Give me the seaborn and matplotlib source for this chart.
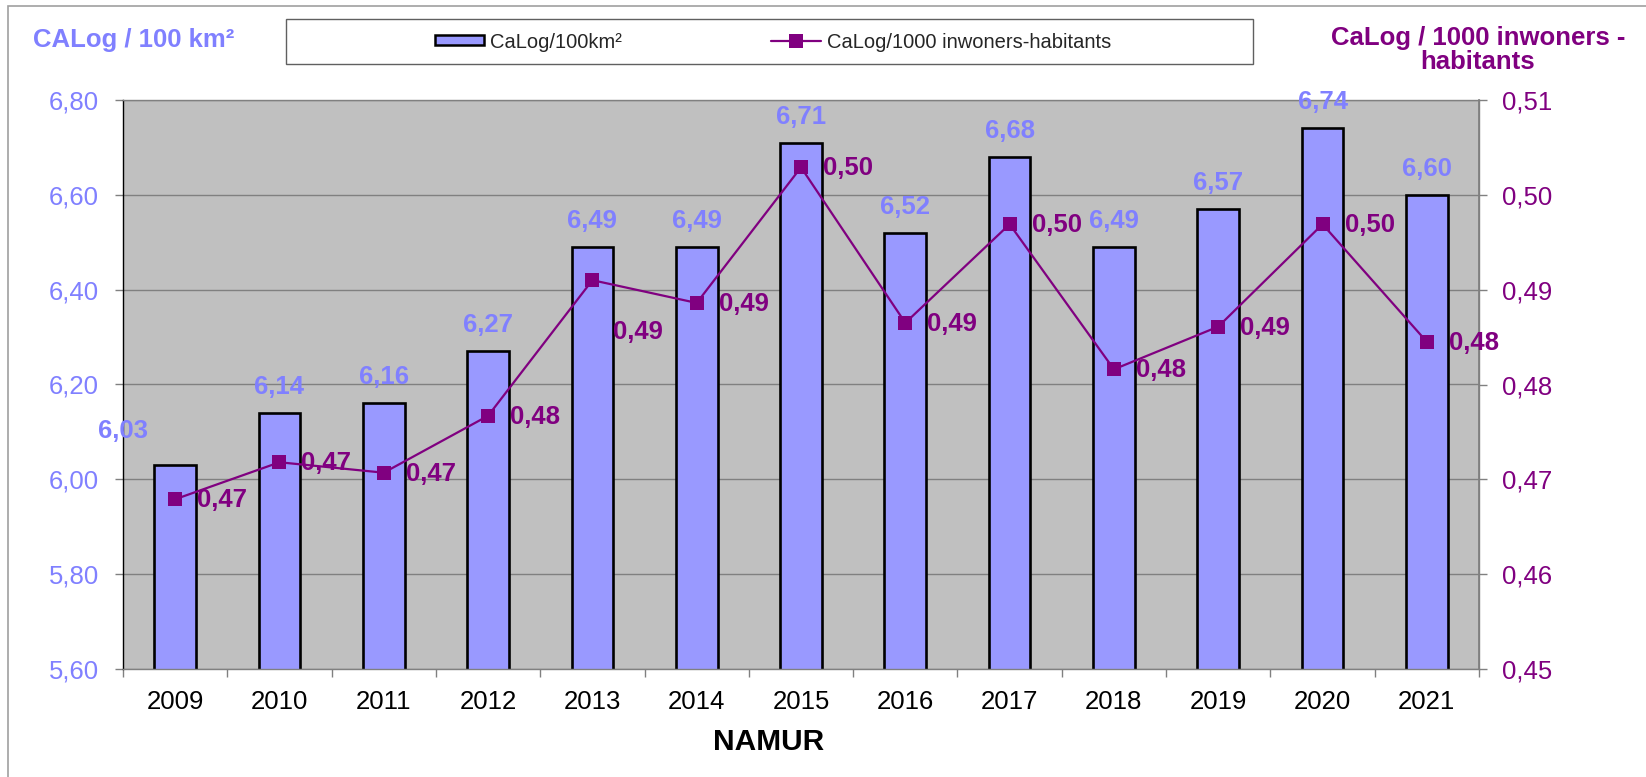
import numpy as np
import pandas as pd
import matplotlib
matplotlib.use("Agg")
import matplotlib.pyplot as plt
import seaborn as sns
from matplotlib.patches import Rectangle, Patch
from matplotlib.lines import Line2D

# ---------------- data ----------------
years = ["2009", "2010", "2011", "2012", "2013", "2014", "2015",
         "2016", "2017", "2018", "2019", "2020", "2021"]
calog_per_100km2 = [6.03, 6.14, 6.16, 6.27, 6.49, 6.49, 6.71,
                    6.52, 6.68, 6.49, 6.57, 6.74, 6.60]
calog_per_1000_inh = [0.4679, 0.4718, 0.4707, 0.4767, 0.4910, 0.4886, 0.5029,
                      0.4865, 0.4969, 0.4816, 0.4861, 0.4969, 0.4845]
left_ticks = [5.60, 5.80, 6.00, 6.20, 6.40, 6.60, 6.80]
right_ticks = [0.45, 0.46, 0.47, 0.48, 0.49, 0.50, 0.51]

series_bar_label = "CaLog/100km²"
series_line_label = "CaLog/1000 inwoners-habitants"
left_title = "CALog / 100 km²"
right_title = "CaLog / 1000 inwoners -\nhabitants"
x_title = "NAMUR"

# ---------------- style ----------------
BAR_FILL = "#9999FF"
BAR_TEXT = "#8080FF"
LINE_COL = "#800080"
PLOT_BG = "#C0C0C0"
GRID_COL = "#808080"

sns.set_theme(style="white")
plt.rcParams["font.family"] = ["Liberation Sans", "DejaVu Sans"]

W, H = 1646, 777
fig = plt.figure(figsize=(W / 100, H / 100), dpi=100)
fig.patch.set_facecolor("white")

# plot area (pixel geometry of the reference)
L, R, T, B = 123, 1479, 100, 669
ax = fig.add_axes([L / W, 1 - B / H, (R - L) / W, (B - T) / H])

df = pd.DataFrame({"year": years,
                   "area": calog_per_100km2,
                   "inh": calog_per_1000_inh})
n = len(years)

sns.barplot(data=df, x="year", y="area", ax=ax, color=BAR_FILL,
            saturation=1, width=0.4, edgecolor="black", linewidth=1.9,
            zorder=2)
ax.set_facecolor(PLOT_BG)
ax.set_ylim(left_ticks[0], left_ticks[-1])
ax.set_xlim(-0.5, n - 0.5)
ax.set_axisbelow(True)
ax.yaxis.grid(True, color=GRID_COL, linewidth=1.0)
ax.xaxis.grid(False)
ax.set_xlabel("")
ax.set_ylabel("")

ax.set_yticks(left_ticks)
ax.set_yticklabels([f"{v:.2f}".replace(".", ",") for v in left_ticks])
ax.tick_params(axis="y", which="major", left=True, length=5.8, width=1,
               color=GRID_COL, labelcolor=BAR_TEXT, labelsize=18.5, pad=11.5)

ax.set_xticks(range(n))
ax.set_xticklabels(years)
ax.set_xticks(np.arange(n + 1) - 0.5, minor=True)
ax.tick_params(axis="x", which="major", bottom=True, length=0,
               labelsize=18.5, labelcolor="black", pad=15)
ax.tick_params(axis="x", which="minor", bottom=True, length=5.8, width=1,
               color=GRID_COL)

for side, sp in ax.spines.items():
    sp.set_visible(True)
    sp.set_color(GRID_COL)
    sp.set_linewidth(1.0)
ax.spines["left"].set_color("black")

# secondary axis with the line
ax2 = ax.twinx()
sns.lineplot(x=np.arange(n), y=df["inh"].values, ax=ax2, color=LINE_COL,
             marker="s", markersize=10, markeredgewidth=0, linewidth=1.6)
ax2.set_ylim(right_ticks[0], right_ticks[-1])
ax2.set_xlim(-0.5, n - 0.5)
ax2.patch.set_visible(False)
ax2.set_yticks(right_ticks)
ax2.set_yticklabels([f"{v:.2f}".replace(".", ",") for v in right_ticks])
ax2.tick_params(axis="y", which="major", right=True, left=False, length=5.8,
                width=1, color=GRID_COL, labelcolor=LINE_COL, labelsize=18.5,
                pad=10.8)
ax2.set_ylabel("")
for side, sp in ax2.spines.items():
    sp.set_visible(False)
ax2.spines["right"].set_visible(True)
ax2.spines["right"].set_color(GRID_COL)

# bar value labels
bar_label_offsets = {0: (-52, 34)}
for i, v in enumerate(calog_per_100km2):
    dx, dy = bar_label_offsets.get(i, (0, 26))
    ax2.annotate(f"{v:.2f}".replace(".", ","),
                 xy=(i, v), xycoords=ax.transData,
                 xytext=(dx, dy), textcoords="offset pixels",
                 ha="center", va="center", fontsize=18.5,
                 fontweight="bold", color=BAR_TEXT, zorder=5)

# line value labels
line_label_offsets = {4: (21, -52)}
for i, v in enumerate(calog_per_1000_inh):
    dx, dy = line_label_offsets.get(i, (22, -1))
    ax2.annotate(f"{v:.2f}".replace(".", ","),
                 xy=(i, v), xycoords="data",
                 xytext=(dx, dy), textcoords="offset pixels",
                 ha="left", va="center", fontsize=18.5,
                 fontweight="bold", color=LINE_COL, zorder=5,
                 annotation_clip=False)

# titles
fig.text(33 / W, 1 - 40 / H, left_title, ha="left", va="center",
         fontsize=18.5, fontweight="bold", color=BAR_TEXT)
fig.text(1478 / W, 1 - 50 / H, right_title, ha="center", va="center",
         fontsize=18.5, fontweight="bold", color=LINE_COL, linespacing=1.05)
fig.text(769 / W, 1 - 742 / H, x_title, ha="center", va="center",
         fontsize=21.5, fontweight="bold", color="black")

# legend
handles = [Patch(facecolor=BAR_FILL, edgecolor="black", linewidth=1.8),
           Line2D([], [], color=LINE_COL, marker="s", markersize=10,
                  markeredgewidth=0, linewidth=1.6)]
fig.legend(handles, [series_bar_label, series_line_label], loc="center",
           bbox_to_anchor=(773 / W, 1 - 42 / H), ncol=2, frameon=False,
           fontsize=14.5, handlelength=2.45, handleheight=0.4,
           handletextpad=0.3, columnspacing=7.4, numpoints=1)
fig.add_artist(Rectangle((286 / W, 1 - 64 / H), (1253 - 286) / W, 45 / H,
                         transform=fig.transFigure, fill=False,
                         edgecolor="#606060", linewidth=1.0))

# outer chart border (cut at the right and bottom edges)
fig.add_artist(Rectangle((8 / W, -0.1), 1.2, (1 - 6 / H) + 0.1,
                         transform=fig.transFigure, fill=False,
                         edgecolor="#A0A0A0", linewidth=1.2))

fig.savefig("out.png", dpi=100, facecolor="white")
